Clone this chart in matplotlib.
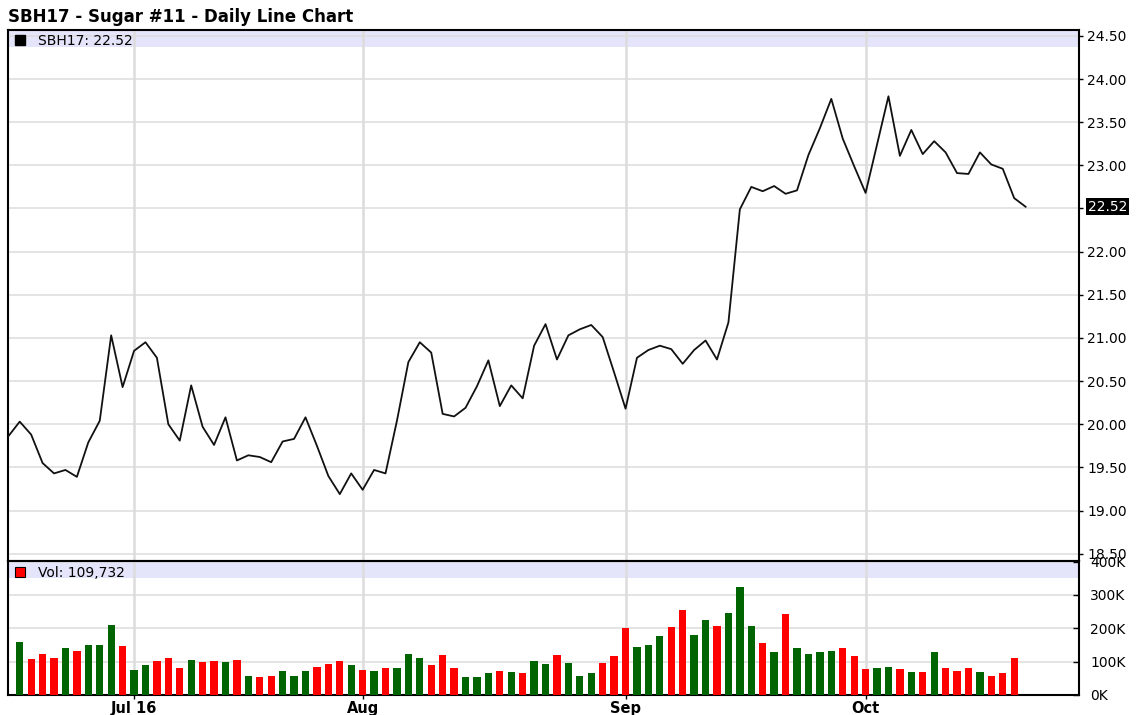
import matplotlib
matplotlib.use("Agg")
import matplotlib.pyplot as plt
from matplotlib.lines import Line2D
from matplotlib.patches import Rectangle
import numpy as np
import pandas as pd

# trading days on the chart: Jun 16 - Oct 21 2016 (Jul 4 and Sep 5 closed)
holidays = ["2016-07-04", "2016-09-05"]
days = pd.bdate_range("2016-06-16", "2016-10-21")
days = days[~days.isin(pd.to_datetime(holidays))]

# SBH17 daily close
close = [
    19.86,
    20.03, 19.88, 19.55, 19.43, 19.47, 19.39, 19.79, 20.04, 21.03, 20.43,
    20.85, 20.95, 20.77, 20.00, 19.81, 20.45, 19.97, 19.76, 20.08, 19.58,
    19.64, 19.62, 19.56, 19.80, 19.83, 20.08, 19.75, 19.40, 19.19, 19.43,
    19.24, 19.47, 19.43, 20.04, 20.72, 20.95, 20.83, 20.12, 20.09, 20.19,
    20.44, 20.74, 20.21, 20.45, 20.30, 20.91, 21.16, 20.75, 21.03, 21.10,
    21.15, 21.01, 20.60, 20.18, 20.77, 20.86, 20.91, 20.87, 20.70, 20.86,
    20.97, 20.75, 21.18, 22.49, 22.75, 22.70, 22.76, 22.67, 22.71, 23.12,
    23.43, 23.77, 23.31, 22.99, 22.68, 23.24, 23.80, 23.11, 23.41, 23.13,
    23.28, 23.15, 22.91, 22.90, 23.15, 23.01, 22.96, 22.62, 22.52,
]

# volume, bars start on Jun 17 and stop on Oct 20
volume = [
    159000, 108000, 122000, 111000, 142000, 132000, 149000, 149000, 210000, 146000,
    74000, 90000, 101000, 111000, 81000, 104000, 98000, 101000, 98000, 105000,
    56000, 53000, 56000, 73000, 56000, 73000, 84000, 94000, 101000, 90000,
    74000, 73000, 80000, 80000, 124000, 110000, 90000, 121000, 80000, 53000,
    53000, 65000, 73000, 69000, 66000, 101000, 94000, 121000, 97000, 56000,
    66000, 97000, 118000, 200000, 145000, 149000, 176000, 204000, 255000, 179000,
    224000, 207000, 245000, 324000, 207000, 155000, 128000, 242000, 142000, 122000,
    128000, 132000, 142000, 118000, 77000, 80000, 83000, 77000, 69000, 69000,
    128000, 80000, 73000, 80000, 69000, 56000, 66000, 109732,
]

month_labels = ["Jul 16", "Aug", "Sep", "Oct"]
price_ticks = [18.5, 19.0, 19.5, 20.0, 20.5, 21.0, 21.5, 22.0, 22.5, 23.0, 23.5, 24.0, 24.5]
price_tick_labels = ["18.50", "19.00", "19.50", "20.00", "20.50", "21.00", "21.50",
                     "22.00", "", "23.00", "23.50", "24.00", "24.50"]
vol_ticks = [0, 100000, 200000, 300000, 400000]
vol_tick_labels = ["0K", "100K", "200K", "300K", "400K"]

GRID = "#dcdcdc"
BAND = "#e4e4fa"
UP = "#006400"
DOWN = "#ff0000"

W, H = 1139, 715
fig = plt.figure(figsize=(W / 100, H / 100), dpi=100)
left, right = 8.3 / W, 1079 / W
ax = fig.add_axes([left, 1 - 561 / H, right - left, (561 - 29.5) / H])
axv = fig.add_axes([left, 1 - 695 / H, right - left, (695 - 561) / H], sharex=ax)

x = np.arange(len(days))
month_pos = [i for i in range(1, len(days)) if days[i].month != days[i - 1].month]

# price panel
ax.add_patch(Rectangle((0, 1 - 17 / 531.5), 1, 17 / 531.5, transform=ax.transAxes,
                       color=BAND, lw=0, zorder=0))
ax.plot(x, close, color="#111111", lw=1.3, zorder=3)
ax.set_ylim(18.415, 24.574)
ax.set_yticks(price_ticks)
ax.set_yticklabels(price_tick_labels)
ax.yaxis.tick_right()
ax.grid(axis="y", color=GRID, lw=1.1, zorder=1)
for m in month_pos:
    ax.axvline(m, color=GRID, lw=1.8, zorder=1)
ax.tick_params(axis="y", direction="out", length=3, width=1, pad=3, labelsize=10)
ax.tick_params(axis="x", bottom=False, labelbottom=False)

last = close[-1]
ax.text(1.0085, last, f"{last:.2f}", transform=ax.get_yaxis_transform(), color="white",
        fontsize=10, va="center", ha="left", clip_on=False,
        bbox=dict(facecolor="black", edgecolor="none", pad=1.2))

ax.legend(handles=[Line2D([], [], ls="none", marker="s", ms=6.5, mfc="black", mec="black")],
          labels=[f"SBH17: {last:.2f}"], loc="center left", bbox_to_anchor=(0.004, 0.979),
          frameon=False, fontsize=10, handlelength=1.0, handletextpad=0.8,
          borderpad=0, borderaxespad=0)

# volume panel
axv.add_patch(Rectangle((0, 1 - 17 / 134), 1, 17 / 134, transform=axv.transAxes,
                        color=BAND, lw=0, zorder=0))
up = np.diff(close)[:len(volume)] >= 0
axv.bar(x[1:len(volume) + 1], volume, width=0.64,
        color=np.where(up, UP, DOWN), zorder=3)
axv.set_ylim(0, 402000)
axv.set_yticks(vol_ticks)
axv.set_yticklabels(vol_tick_labels)
axv.yaxis.tick_right()
axv.grid(axis="y", color=GRID, lw=1.1, zorder=1)
for m in month_pos:
    axv.axvline(m, color=GRID, lw=1.8, zorder=1)
axv.tick_params(axis="y", direction="in", length=4, width=1, pad=8, labelsize=10)
axv.set_xticks(month_pos)
axv.set_xticklabels(month_labels, fontweight="bold", fontsize=10.5)
axv.tick_params(axis="x", direction="out", length=3, width=1, pad=1.5)
axv.set_xlim(0, 93.67)

axv.legend(handles=[Line2D([], [], ls="none", marker="s", ms=7, mfc=DOWN, mec="black", mew=0.8)],
           labels=[f"Vol: {volume[-1]:,}"], loc="center left",
           bbox_to_anchor=(0.004, 0.914), frameon=False, fontsize=10, handlelength=1.0,
           handletextpad=0.8, borderpad=0, borderaxespad=0)

for a in (ax, axv):
    for s in a.spines.values():
        s.set_linewidth(1.5)
        s.set_color("black")

fig.text(8 / W, 1 - 17.5 / H, "SBH17 - Sugar #11 - Daily Line Chart",
         fontsize=12, fontweight="bold", va="center", ha="left")

fig.savefig("out.png", dpi=100)
